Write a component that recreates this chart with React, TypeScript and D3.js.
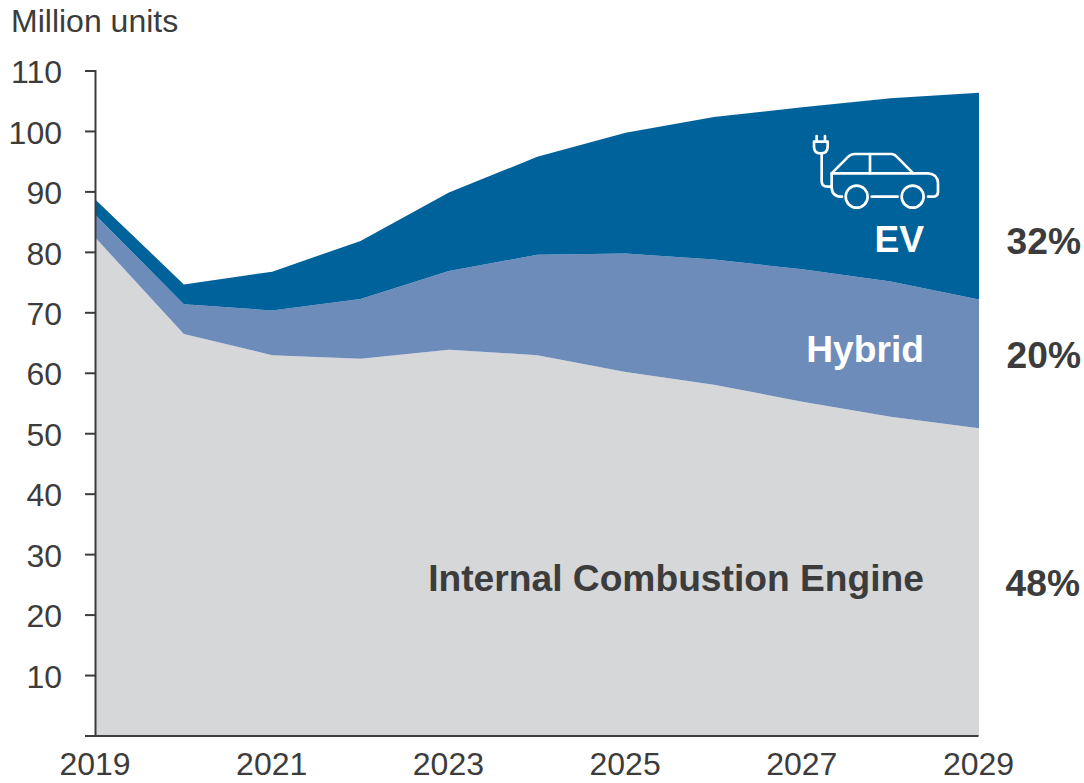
import React, { useEffect, useRef } from "react"
import * as d3 from "d3"

const years = [2019, 2020, 2021, 2022, 2023, 2024, 2025, 2026, 2027, 2028, 2029]
const iceValues = [82.4, 66.5, 63.0, 62.4, 63.9, 63.0, 60.2, 58.1, 55.3, 52.8, 50.9]
const hybridValues = [3.8, 4.9, 7.4, 9.9, 13.0, 16.6, 19.6, 20.7, 21.9, 22.4, 21.3]
const evValues = [2.5, 3.3, 6.4, 9.6, 13.0, 16.2, 20.0, 23.6, 26.8, 30.3, 34.2]
const yTicks = [10, 20, 30, 40, 50, 60, 70, 80, 90, 100, 110]
const xTicks = [2019, 2021, 2023, 2025, 2027, 2029]
const seriesKeys = ["ice", "hybrid", "ev"]
const seriesColors = ["#d6d7d9", "#6e8cb9", "#00629b"]
const shareLabels = ["48%", "20%", "32%"]

const W = 1084
const H = 783
const left = 95.5
const right = 979
const top = 71
const bottom = 736
const textColor = "#3c3c3c"
const font = "'Liberation Sans', Arial, sans-serif"

export default function App() {
  const yAxisRef = useRef<SVGGElement>(null)
  const xAxisRef = useRef<SVGGElement>(null)

  const x = d3.scaleLinear().domain([2019, 2029]).range([left, right])
  const y = d3.scaleLinear().domain([0, 110]).range([bottom, top])

  const rows = years.map((year, i) => ({
    year,
    ice: iceValues[i],
    hybrid: hybridValues[i],
    ev: evValues[i],
  }))
  const stacked = d3.stack<any>().keys(seriesKeys)(rows)
  const area = d3
    .area<any>()
    .x((d) => x(d.data.year))
    .y0((d) => y(d[0]))
    .y1((d) => y(d[1]))

  useEffect(() => {
    const yAxis = d3
      .select(yAxisRef.current)
      .call(d3.axisLeft(y).tickValues([0, ...yTicks]).tickSize(10).tickPadding(23).tickFormat((d: any) => (d === 0 ? "" : d)))
    yAxis.selectAll("line, path").attr("stroke", textColor).attr("stroke-width", 2)
    yAxis.selectAll("text").attr("fill", textColor).attr("font-size", 32).attr("font-family", font).attr("dy", "0.38em")

    const xAxis = d3
      .select(xAxisRef.current)
      .call(d3.axisBottom(x).tickValues(xTicks).tickSize(0).tickPadding(17).tickFormat(d3.format("d") as any))
    xAxis.selectAll("path").attr("stroke", textColor).attr("stroke-width", 2)
    xAxis.selectAll("text").attr("fill", textColor).attr("font-size", 32).attr("font-family", font)
  }, [])

  return (
    <svg width={W} height={H} style={{ position: "absolute", left: 0, top: 0, background: "#fff" }}>
      <text x={11} y={32} fontSize={32} fontFamily={font} fill={textColor}>
        Million units
      </text>

      {stacked.map((s, i) => (
        <path key={s.key} d={area(s) || ""} fill={seriesColors[i]} />
      ))}

      <g ref={yAxisRef} transform={`translate(${left - 0.5},-0.5)`} />
      <g ref={xAxisRef} transform={`translate(-1,${bottom - 0.5})`} />

      <g fontFamily={font} fontWeight="bold" fontSize={37.2} textAnchor="end">
        <text x={924} y={591} fill={textColor}>Internal Combustion Engine</text>
        <text x={924} y={362} fill="#fff">Hybrid</text>
        <text x={924} y={252} fill="#fff">EV</text>
        <text x={1080} y={596} fill={textColor}>{shareLabels[0]}</text>
        <text x={1081} y={368} fill={textColor}>{shareLabels[1]}</text>
        <text x={1081} y={254} fill={textColor}>{shareLabels[2]}</text>
      </g>

      {/* car and plug icon */}
      <g transform="translate(780,120) scale(0.3333)" fill="none" stroke="#fff" strokeWidth={8} strokeLinecap="round" strokeLinejoin="round">
        <path d="M186 230 Q155 230 155 200 V160 H445 Q474 163 474 190 V215 Q474 230 457 230 H444" />
        <path d="M155 160 L205 110 Q213 102 225 102 H335 Q345 103 350 110 L400 160" />
        <path d="M270 102 V160" />
        <circle cx={230} cy={230} r={33} />
        <circle cx={398} cy={230} r={33} />
        <path d="M275 230 H353" />
        <path d="M125 100 V183 Q125 200 142 200 H155" />
        <path d="M102 65 H143 V80 Q143 100 122 100 Q102 100 102 80 Z" />
        <path d="M110 48 V65 M135 48 V65" />
      </g>
    </svg>
  )
}
